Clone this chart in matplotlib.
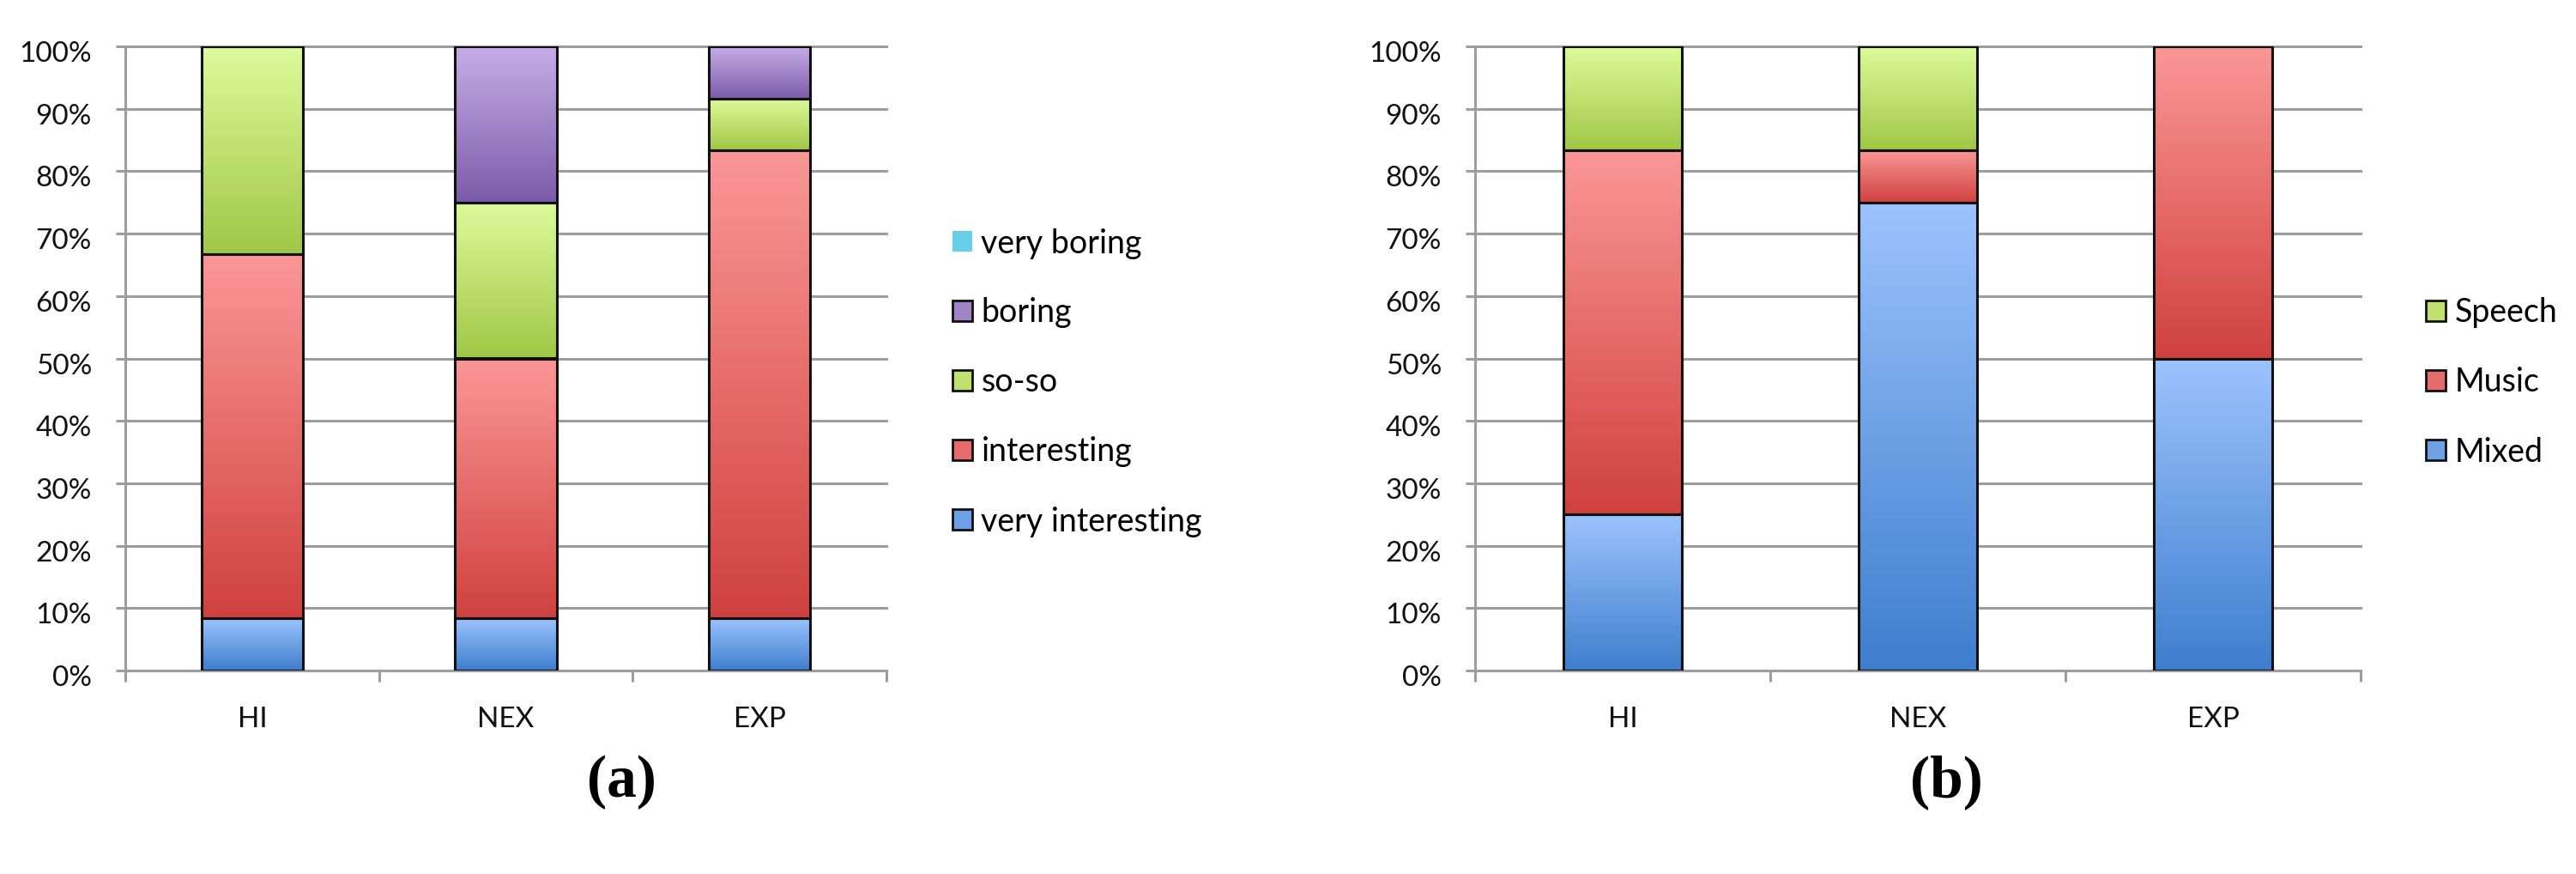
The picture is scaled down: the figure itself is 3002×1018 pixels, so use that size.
import matplotlib
matplotlib.use('Agg')
import matplotlib.pyplot as plt
import numpy as np
from matplotlib.colors import LinearSegmentedColormap
from matplotlib.patches import Patch
from matplotlib.transforms import ScaledTranslation

# ---------------- data ----------------
categories = ['HI', 'NEX', 'EXP']

# (a) interest ratings, percent of participants
very_interesting = [8.33, 8.33, 8.33]
interesting = [58.33, 41.67, 75.0]
so_so = [33.33, 25.0, 8.33]
boring = [0.0, 25.0, 8.33]
very_boring = [0.0, 0.0, 0.0]

# (b) preferred content, percent of participants
mixed = [25.0, 75.0, 50.0]
music = [58.33, 8.33, 50.0]
speech = [16.67, 16.67, 0.0]

ytick_values = [0, 10, 20, 30, 40, 50, 60, 70, 80, 90, 100]
ytick_labels = ['0%', '10%', '20%', '30%', '40%', '50%', '60%', '70%', '80%', '90%', '100%']

# ---------------- styles ----------------
GRAD = {
    'blue':   ('#9CC3FD', '#3E7ECE'),
    'red':    ('#FB9797', '#D0413E'),
    'green':  ('#DDFB9B', '#A0C746'),
    'purple': ('#C6ADE8', '#7C5BA8'),
    'cyan':   ('#8BE0F2', '#3FBBDD'),
}
MID = {k: matplotlib.colors.to_hex(
    (np.array(matplotlib.colors.to_rgb(v[0])) + np.array(matplotlib.colors.to_rgb(v[1]))) / 2)
    for k, v in GRAD.items()}

GRID = '#9d9d9d'
FONT = 'Lato'
TICKFS = 24
LEGFS = 27
W, H = 3002, 1018

plt.rcParams['font.family'] = [FONT, 'DejaVu Sans']

fig = plt.figure(figsize=(W / 100, H / 100), dpi=100)


def px_axes(x0, x1, ytop, ybot):
    return fig.add_axes([x0 / W, 1 - ybot / H, (x1 - x0) / W, (ybot - ytop) / H])


def gradient_fill(ax, patch, key):
    top, bot = GRAD[key]
    cmap = LinearSegmentedColormap.from_list('g' + key, [bot, top])
    x0, y0 = patch.get_x(), patch.get_y()
    w, h = patch.get_width(), patch.get_height()
    if h <= 0:
        return
    grad = np.linspace(0, 1, 256).reshape(-1, 1)
    im = ax.imshow(grad, extent=[x0, x0 + w, y0, y0 + h], origin='lower',
                   aspect='auto', cmap=cmap, zorder=3.5, interpolation='bilinear')
    im.set_clip_path(patch)


def stacked(ax, series):
    x = np.arange(len(categories))
    bottom = np.zeros(len(categories))
    for vals, key in series:
        vals = np.asarray(vals, dtype=float)
        bars = ax.bar(x, vals, width=0.4, bottom=bottom, color=MID[key],
                      edgecolor='none', zorder=3)
        for p in bars:
            gradient_fill(ax, p, key)
        ax.bar(x, vals, width=0.4, bottom=bottom, fill=False,
               edgecolor='#111111', linewidth=2.2, zorder=5)
        bottom += vals


def style(ax):
    ax.set_xlim(-0.5, 2.5)
    ax.set_ylim(0, 100)
    ax.set_yticks(ytick_values)
    ax.set_yticklabels(ytick_labels)
    ax.set_xticks(range(len(categories)))
    ax.set_xticklabels(categories)
    ax.set_xticks([-0.5, 0.5, 1.5, 2.5], minor=True)
    ax.yaxis.grid(True, color=GRID, linewidth=2.2, zorder=0)
    for gl in ax.get_ygridlines():
        gl.set_clip_on(False)
    ax.set_axisbelow(True)
    for s in ('top', 'right'):
        ax.spines[s].set_visible(False)
    for s in ('left', 'bottom'):
        ax.spines[s].set_color(GRID)
        ax.spines[s].set_linewidth(2.2)
    ax.tick_params(axis='y', which='major', length=8, width=2.2, color=GRID,
                   pad=20, labelsize=TICKFS, labelcolor='#111111')
    ax.tick_params(axis='x', which='major', length=0, pad=30,
                   labelsize=TICKFS, labelcolor='#111111')
    ax.tick_params(axis='x', which='minor', length=9.5, width=2.2, color=GRID)
    off = ScaledTranslation(0, -6 / 100, fig.dpi_scale_trans)
    for lbl in ax.get_yticklabels():
        lbl.set_transform(lbl.get_transform() + off)
    ax.set_facecolor('white')


LEG_KW = dict(loc='center left', bbox_transform=fig.transFigure, frameon=False,
              borderpad=0, borderaxespad=0, handlelength=0.62, handleheight=0.62,
              handletextpad=0.27, labelspacing=1.2, fontsize=LEGFS)

# ---------------- (a) ----------------
ax1 = px_axes(146, 1033, 54, 781)
stacked(ax1, [(very_interesting, 'blue'), (interesting, 'red'),
              (so_so, 'green'), (boring, 'purple')])
style(ax1)

h1 = [Patch(facecolor=MID['cyan'], edgecolor='none'),
      Patch(facecolor=MID['purple'], edgecolor='#111111', linewidth=2),
      Patch(facecolor=MID['green'], edgecolor='#111111', linewidth=2),
      Patch(facecolor=MID['red'], edgecolor='#111111', linewidth=2),
      Patch(facecolor=MID['blue'], edgecolor='#111111', linewidth=2)]
l1 = ['very boring', 'boring', 'so-so', 'interesting', 'very interesting']
ax1.legend(h1, l1, bbox_to_anchor=(1110 / W, 1 - 445.5 / H), **LEG_KW)

# ---------------- (b) ----------------
ax2 = px_axes(1719, 2751, 54, 781)
stacked(ax2, [(mixed, 'blue'), (music, 'red'), (speech, 'green')])
style(ax2)

h2 = [Patch(facecolor=MID['green'], edgecolor='#111111', linewidth=2),
      Patch(facecolor=MID['red'], edgecolor='#111111', linewidth=2),
      Patch(facecolor=MID['blue'], edgecolor='#111111', linewidth=2)]
l2 = ['Speech', 'Music', 'Mixed']
ax2.legend(h2, l2, bbox_to_anchor=(2827 / W, 1 - 445.5 / H), **LEG_KW)

# ---------------- sub-captions ----------------
fig.text(724 / W, 1 - 911 / H, '(a)', ha='center', va='center', fontsize=50,
         fontweight='bold', family='Liberation Serif')
fig.text(2268 / W, 1 - 911 / H, '(b)', ha='center', va='center', fontsize=50,
         fontweight='bold', family='Liberation Serif')

fig.savefig('out.png', dpi=100, facecolor='white')
